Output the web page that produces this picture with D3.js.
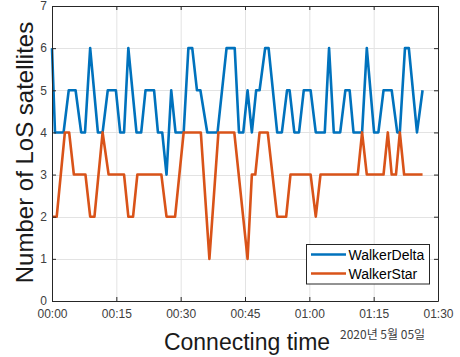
<!DOCTYPE html>
<html><head><meta charset="utf-8">
<script src="https://cdn.jsdelivr.net/npm/d3@7"></script>
<style>body{margin:0;background:#fff}svg{display:block}</style>
</head><body>
<svg id="chart" width="460" height="357"></svg>
<script>
const tickLabels = ["00:00","00:15","00:30","00:45","01:00","01:15","01:30"];
const yTickValues = [0,1,2,3,4,5,6,7];
const seriesNames = ["WalkerDelta","WalkerStar"];
const dateLabel = "2020년 5월 05일";
const xTitle = "Connecting time";
const yTitle = "Number of LoS satellites";

// WalkerDelta: minutes after 00:00, satellites in view
const deltaMinutes = [0,0.7,2.7,3.9,5.5,6.8,7.7,8.9,10.7,11.8,13,14.9,15.9,16.8,17.8,19.7,20.8,21.8,23.8,24.7,25.7,26.7,27.8,28.8,30.7,31.8,32.7,33.8,34.6,36.2,38.6,40.7,42.6,43.6,44.6,45.6,46.6,47.6,48.4,49.7,50.5,52.5,53.6,54.8,55.4,56.5,57.6,58.7,60.3,61.5,63.6,64.6,65.7,67.2,68.4,69.4,70.3,72.3,73.4,75.1,76.1,77.3,79.2,80.5,81.1,82.3,83.2,85.1,86.4];
const deltaValues  = [6,4,4,5,5,4,4,6,4,4,5,5,4,4,6,4,4,5,5,4,4,3,5,4,4,6,6,5,5,4,4,6,6,4,4,5,4,5,5,6,6,4,4,5,5,4,4,5,5,4,4,6,4,4,5,5,4,4,6,4,4,5,5,4,4,6,6,4,5];

// WalkerStar
const starMinutes = [0,1.1,3,4,5.1,7.8,8.9,9.9,11.8,13.2,16.8,17.8,18.9,19.9,25.5,26.7,28.7,30.7,34.7,36.7,38.8,42.5,45.6,46.6,47.4,48.4,50.3,52.5,54.6,55.6,60.3,61.5,62.6,71.3,72.3,73.4,77.3,78.3,79.2,80.2,81.1,82.1,86.4];
const starValues  = [2,2,4,4,3,3,2,2,4,3,3,2,2,3,3,2,2,4,4,1,4,4,1,3,3,4,4,2,2,3,3,2,3,3,4,3,3,4,3,3,4,3,3];

const colors = ["#0072BD","#D95319"];

const svg = d3.select("#chart");
const parse = d3.utcParse("%H:%M");
const t0 = parse(tickLabels[0]);
const toDate = m => new Date(+t0 + m*60000);
const tickDates = tickLabels.map(parse);

const L = 52, R = 438, T = 6, B = 301;
const x = d3.scaleUtc().domain([tickDates[0], tickDates[tickDates.length-1]]).range([L, R]);
const y = d3.scaleLinear().domain([0,7]).range([B, T]);

const font = "'Liberation Sans', Arial, sans-serif";
const axisCol = "#262626";

// grid
const grid = svg.append("g");
grid.selectAll("line.gx").data(tickDates.slice(1,-1)).join("line")
  .attr("x1", d=>x(d)+0.5).attr("x2", d=>x(d)+0.5).attr("y1", T).attr("y2", B)
  .attr("stroke", "#e3e3e3").attr("stroke-width", 1);
grid.selectAll("line.gy").data(yTickValues.slice(1,-1)).join("line")
  .attr("y1", d=>Math.round(y(d))+0.5).attr("y2", d=>Math.round(y(d))+0.5).attr("x1", L).attr("x2", R)
  .attr("stroke", "#e3e3e3").attr("stroke-width", 1);

// series
const series = [
  deltaMinutes.map((m,i)=>({t:toDate(m), v:deltaValues[i]})),
  starMinutes.map((m,i)=>({t:toDate(m), v:starValues[i]}))
];
const line = d3.line().x(d=>x(d.t)).y(d=>y(d.v));
series.forEach((s,i)=>{
  svg.append("path").datum(s).attr("d", line).attr("fill","none")
    .attr("stroke", colors[i]).attr("stroke-width", 2.6).attr("stroke-linejoin","round");
});

// axes
function styleAxis(g){
  g.selectAll(".domain").attr("stroke", axisCol).attr("stroke-width", 1);
  g.selectAll(".tick line").attr("stroke", axisCol);
  g.selectAll(".tick text").attr("fill", "#404040").style("font-family", font).style("font-size", "12px");
}
svg.append("g").attr("transform", `translate(0,${B})`)
  .call(d3.axisBottom(x).tickValues(tickDates).tickFormat(d3.utcFormat("%H:%M")).tickSizeInner(-4).tickSizeOuter(0).tickPadding(8.5))
  .call(styleAxis);
svg.append("g").attr("transform", `translate(0,${T})`)
  .call(d3.axisTop(x).tickValues(tickDates).tickFormat("").tickSizeInner(-4).tickSizeOuter(0))
  .call(styleAxis);
svg.append("g").attr("transform", `translate(${L},0)`)
  .call(d3.axisLeft(y).tickValues(yTickValues).tickFormat(d3.format("d")).tickSizeInner(-4).tickSizeOuter(0).tickPadding(5))
  .call(styleAxis);
svg.append("g").attr("transform", `translate(${R},0)`)
  .call(d3.axisRight(y).tickValues(yTickValues).tickFormat("").tickSizeInner(-4).tickSizeOuter(0))
  .call(styleAxis);

// titles
svg.append("text").attr("x", 247).attr("y", 350).attr("text-anchor","middle")
  .style("font-family", font).style("font-size","23px").attr("fill","#1a1a1a").text(xTitle);
svg.append("text").attr("transform","translate(33,152.5) rotate(-90)").attr("text-anchor","middle")
  .style("font-family", font).style("font-size","24px").attr("fill","#1a1a1a").text(yTitle);
svg.append("text").attr("x", 340).attr("y", 339)
  .style("font-family", "'Noto Sans CJK KR', 'Noto Sans', sans-serif").style("font-size","12px").attr("fill","#404040").text(dateLabel);

// legend
const lg = svg.append("g");
lg.append("rect").attr("x",306.5).attr("y",244.5).attr("width",123).attr("height",39.5)
  .attr("fill","#fff").attr("stroke",axisCol).attr("stroke-width",1);
seriesNames.forEach((n,i)=>{
  const yy = 254.5 + i*19;
  lg.append("line").attr("x1",311).attr("x2",346).attr("y1",yy).attr("y2",yy)
    .attr("stroke",colors[i]).attr("stroke-width",2.5);
  lg.append("text").attr("x",348.5).attr("y",yy+5).style("font-family",font).style("font-size","14px")
    .attr("fill","#000").text(n);
});
</script>
</body></html>
